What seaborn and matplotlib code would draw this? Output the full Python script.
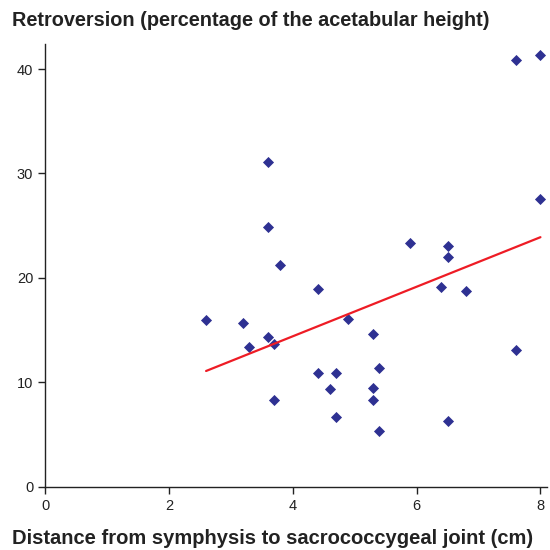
import matplotlib
matplotlib.use("Agg")
import matplotlib.pyplot as plt
import seaborn as sns
import numpy as np
import pandas as pd

# distance from symphysis to sacrococcygeal joint (cm)
distance = [2.6, 3.2, 3.3, 3.6, 3.6, 3.6, 3.7, 3.7, 3.8, 4.4,
            4.4, 4.7, 4.6, 4.7, 4.9, 5.3, 5.3, 5.3, 5.4, 5.4,
            5.9, 6.5, 6.5, 6.4, 6.8, 6.5, 7.6, 7.6, 8.0, 8.0]
# retroversion (% of acetabular height)
retroversion = [16.0, 15.7, 13.4, 31.1, 24.9, 14.3, 13.7, 8.3, 21.2, 18.9,
                10.9, 10.9, 9.4, 6.7, 16.1, 14.6, 9.5, 8.3, 11.4, 5.3,
                23.3, 23.1, 22.0, 19.1, 18.7, 6.3, 40.9, 13.1, 41.3, 27.6]

x_ticks = [0, 2, 4, 6, 8]
y_ticks = [0, 10, 20, 30, 40]

df = pd.DataFrame({"distance": distance, "retroversion": retroversion})

sns.set_style("ticks")
plt.rcParams['font.family'] = ['Liberation Sans', 'DejaVu Sans']

fig, ax = plt.subplots(figsize=(5.5, 5.5), dpi=100)
fig.subplots_adjust(left=0.082, right=0.995, bottom=0.115, top=0.92)

sns.regplot(data=df, x="distance", y="retroversion", ax=ax, ci=None,
            marker="D", truncate=True,
            scatter_kws={"s": 32, "color": "#2E3192", "linewidths": 0, "alpha": 1},
            line_kws={"color": "#EE1C25", "linewidth": 1.6})

ax.set_xlim(0, 8.11)
ax.set_ylim(0, 42.4)
ax.set_xticks(x_ticks)
ax.set_yticks(y_ticks)
ax.tick_params(labelsize=10.5, length=5, width=1, color="#222222", labelcolor="#222222")
ax.set_xlabel("")
ax.set_ylabel("")
sns.despine(ax=ax)
for s in ["left", "bottom"]:
    ax.spines[s].set_linewidth(1)
    ax.spines[s].set_color("#222222")

fig.text(0.022, 0.962, "Retroversion (percentage of the acetabular height)",
         fontsize=14.3, fontweight="bold", color="#222222", va="center", ha="left")
fig.text(0.022, 0.02, "Distance from symphysis to sacrococcygeal joint (cm)",
         fontsize=14.5, fontweight="bold", color="#222222", va="center", ha="left")

plt.savefig("out.png", dpi=100)
plt.close()
